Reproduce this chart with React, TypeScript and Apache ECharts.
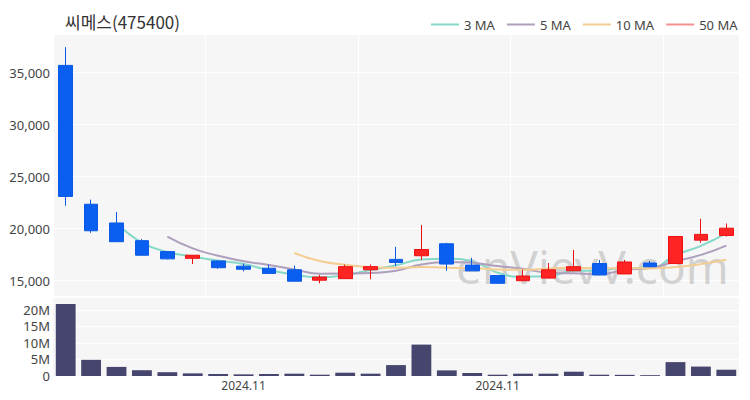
import React, { useEffect, useRef } from "react";
import * as echarts from "echarts";

const dates = [
  "2024-10-31", "2024-11-01", "2024-11-04", "2024-11-05", "2024-11-06", "2024-11-07",
  "2024-11-08", "2024-11-11", "2024-11-12", "2024-11-13", "2024-11-14", "2024-11-15",
  "2024-11-18", "2024-11-19", "2024-11-20", "2024-11-21", "2024-11-22", "2024-11-25",
  "2024-11-26", "2024-11-27", "2024-11-28", "2024-11-29", "2024-12-02", "2024-12-03",
  "2024-12-04", "2024-12-05", "2024-12-06",
];
const opens = [
  35700, 22350, 20550, 18850, 17800, 17150, 16900, 16400, 16200, 16050, 15050, 15200,
  16050, 17050, 17400, 18550, 16500, 15500, 15000, 15250, 15950, 16650, 15650, 16700,
  16650, 18900, 19350,
];
const closes = [
  23100, 19800, 18750, 17450, 17100, 17450, 16250, 16100, 15700, 14950, 15350, 16350,
  16350, 16750, 18000, 16600, 15950, 14750, 15450, 16050, 16350, 15550, 16800, 16350,
  19250, 19450, 20050,
];
const lows = [
  22200, 19600, 18750, 17400, 17050, 16600, 16150, 15900, 15700, 14950, 14750, 15200,
  15150, 16400, 17000, 15950, 15950, 14750, 14950, 15200, 15950, 15550, 15650, 16300,
  16650, 18650, 19250,
];
const highs = [
  37450, 22800, 21600, 19000, 17850, 17450, 16950, 16650, 16550, 16450, 15550, 16550,
  16550, 18250, 20350, 18650, 17200, 15500, 16050, 16700, 17950, 17000, 17000, 16900,
  19300, 20950, 20500,
];
const volumes = [
  21.8e6, 4.9e6, 2.75e6, 1.75e6, 1.15e6, 0.8e6, 0.6e6, 0.5e6, 0.6e6, 0.7e6, 0.4e6, 1.0e6,
  0.7e6, 3.3e6, 9.5e6, 1.7e6, 0.9e6, 0.4e6, 0.7e6, 0.7e6, 1.3e6, 0.4e6, 0.35e6, 0.25e6,
  4.2e6, 2.85e6, 1.9e6,
];
const priceTicks = [15000, 20000, 25000, 30000, 35000];
const volumeTicks = [0, 5e6, 10e6, 15e6, 20e6];
const maPeriods = [3, 5, 10, 50];
const maColors = ["#86d8c9", "#ae9fbd", "#f3cd91", "#f69090"];

function movingAverage(n: number): (number | string)[] {
  return closes.map((_, i) => {
    if (i < n - 1) return "-";
    let s = 0;
    for (let k = i - n + 1; k <= i; k++) s += closes[k];
    return Math.round(s / n);
  });
}

export default function App() {
  const ref = useRef<HTMLDivElement>(null);
  useEffect(() => {
    if (!ref.current) return;
    const chart = echarts.init(ref.current, undefined, { renderer: "svg" });
    const font = "Noto Sans";
    const candleData = dates.map((_, i) => [opens[i], closes[i], lows[i], highs[i]]);
    const maSeries = maPeriods.map((p, idx) => ({
      name: `${p} MA`,
      type: "line",
      data: movingAverage(p),
      smooth: true,
      symbol: "none",
      showSymbol: false,
      lineStyle: { width: 2, color: maColors[idx] },
      itemStyle: { color: maColors[idx] },
      xAxisIndex: 0,
      yAxisIndex: 0,
      z: 3,
    }));
    chart.setOption({
      animation: false,
      backgroundColor: "#ffffff",
      title: {
        text: "씨메스(475400)",
        left: 65,
        top: 13,
        padding: 0,
        textStyle: { fontSize: 17, fontWeight: "normal", color: "#333", fontFamily: "Noto Sans CJK KR" },
      },
      legend: {
        data: maPeriods.map((p) => `${p} MA`),
        left: 431,
        top: 18,
        padding: 0,
        icon: "rect",
        itemWidth: 28,
        itemHeight: 2,
        itemGap: 12,
        textStyle: { fontSize: 13, color: "#444", fontFamily: font },
      },
      graphic: [
        {
          type: "text",
          left: 456,
          top: 243,
          z: 1,
          silent: true,
          style: {
            text: "enVievV.com",
            fontSize: 46,
            fontFamily: "Noto Sans",
            fill: "rgba(185,185,185,0.6)",
          },
        },
      ],
      grid: [
        { left: 53, right: 11, top: 35, height: 261, show: true, backgroundColor: "#f6f6f6", borderWidth: 0 },
        { left: 53, right: 11, top: 298, height: 78, show: true, backgroundColor: "#f6f6f6", borderWidth: 0 },
      ],
      xAxis: [
        {
          type: "category",
          gridIndex: 0,
          data: dates,
          boundaryGap: true,
          axisLine: { show: false },
          axisTick: { show: false },
          axisLabel: { show: false },
          splitLine: {
            show: true,
            interval: (i: number) => i % 6 === 0,
            lineStyle: { color: "#ffffff", width: 1 },
          },
        },
        {
          type: "category",
          gridIndex: 1,
          data: dates,
          boundaryGap: true,
          axisLine: { show: false },
          axisTick: { show: false },
          axisLabel: {
            interval: (i: number) => i === 7 || i === 17,
            formatter: (v: string) => v.slice(0, 7).replace("-", "."),
            fontSize: 12,
            color: "#444",
            fontFamily: font,
            margin: 3,
          },
          splitLine: { show: false },
        },
      ],
      yAxis: [
        {
          type: "value",
          gridIndex: 0,
          min: 13530,
          max: 38620,
          axisLine: { show: false },
          axisTick: { show: false, customValues: priceTicks },
          axisLabel: {
            customValues: priceTicks,
            formatter: (v: number) => v.toLocaleString("en-US"),
            fontSize: 13,
            color: "#444",
            fontFamily: font,
            margin: 3,
          },
          splitLine: { show: true, lineStyle: { color: "#ffffff", width: 1 } },
        },
        {
          type: "value",
          gridIndex: 1,
          min: 0,
          max: 23600000,
          axisLine: { show: false },
          axisTick: { show: false, customValues: volumeTicks },
          axisLabel: {
            customValues: volumeTicks,
            formatter: (v: number) => (v === 0 ? "0" : `${v / 1e6}M`),
            fontSize: 13,
            color: "#444",
            fontFamily: font,
            margin: 3,
          },
          splitLine: { show: true, lineStyle: { color: "#ffffff", width: 1 } },
        },
      ],
      series: [
        {
          name: "price",
          type: "candlestick",
          xAxisIndex: 0,
          yAxisIndex: 0,
          data: candleData,
          barWidth: "56%",
          z: 4,
          itemStyle: {
            color: "#ff2424",
            color0: "#0a5ef0",
            borderColor: "#ee1111",
            borderColor0: "#0a5ae6",
            borderWidth: 1,
          },
        },
        ...maSeries,
        {
          name: "volume",
          type: "bar",
          xAxisIndex: 1,
          yAxisIndex: 1,
          data: volumes,
          barWidth: "78%",
          itemStyle: { color: "#46456d" },
        },
      ],
    });
    return () => chart.dispose();
  }, []);
  return (
    <div
      ref={ref}
      style={{ position: "fixed", left: 0, top: 0, width: 750, height: 400 }}
    />
  );
}
